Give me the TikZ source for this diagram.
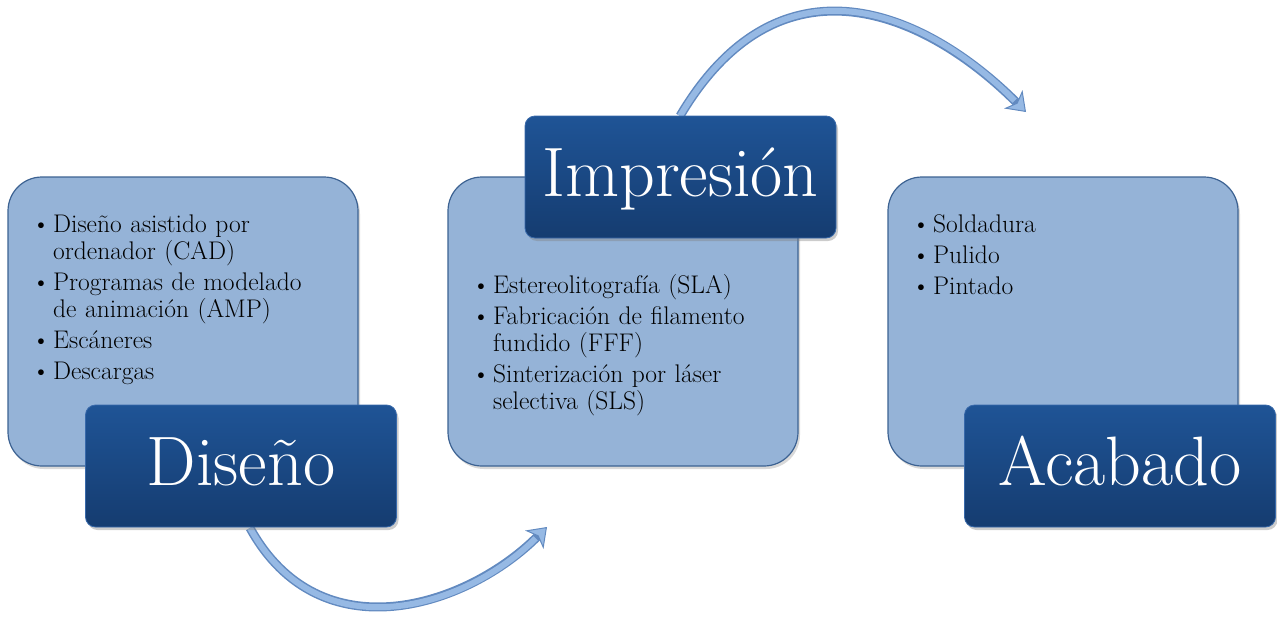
\documentclass[tikz,border=0pt]{standalone}
\usetikzlibrary{shadows,arrows.meta}

\definecolor{boxfill}{RGB}{149,179,215}
\definecolor{boxline}{RGB}{60,98,146}
\definecolor{titletop}{RGB}{31,84,150}
\definecolor{titlebot}{RGB}{21,60,112}
\definecolor{titleline}{RGB}{56,105,170}
\definecolor{arrowfill}{RGB}{150,185,228}
\definecolor{arrowline}{RGB}{98,138,192}
\newcommand{\blt}{\leavevmode\llap{\textbullet\hspace{3pt}}}

\begin{document}
\begin{tikzpicture}[x=1pt,y=-1pt,
    lightbox/.style={draw=boxline,line width=1.2pt,fill=boxfill,
        rounded corners=34pt,minimum width=350pt,minimum height=289pt,inner sep=0pt,
        drop shadow={opacity=0.3,shadow xshift=2pt,shadow yshift=-3pt}},
    titlebox/.style={draw=titleline,line width=0.8pt,top color=titletop,bottom color=titlebot,
        rounded corners=10pt,minimum width=311pt,minimum height=122pt,inner sep=0pt,
        text=white,font=\fontsize{70}{76}\selectfont,text height=38pt,text depth=0pt,
        drop shadow={opacity=0.4,shadow xshift=2pt,shadow yshift=-3pt}},
    itemlist/.style={anchor=north west,inner sep=0pt,text width=310pt,align=left,
        font=\fontsize{25.5}{27}\selectfont},
    curvedarrow/.style={line width=9pt,draw=arrowline,
        -{Stealth[length=18pt,width=26pt,inset=5pt,line width=1pt,fill=arrowfill]}},
    curvedcore/.style={line width=6pt,draw=arrowfill,shorten >=16pt}]

\useasboundingbox (0,0) rectangle (1277,621);

\coordinate (d1) at (250,528);
\coordinate (d2) at (547,527);
\coordinate (i1) at (680,116);
\coordinate (i2) at (1026,112);

\draw[curvedarrow] (d1) .. controls (320,655) and (467,607) .. (d2);
\draw[curvedcore] (d1) .. controls (320,655) and (467,607) .. (d2);
\draw[curvedarrow] (i1) .. controls (780,-53) and (926,12) .. (i2);
\draw[curvedcore] (i1) .. controls (780,-53) and (926,12) .. (i2);

\foreach \x/\n in {183/box1,623/box2,1063/box3}{
\node[lightbox] (\n) at (\x,321.5) {};
}

\node[itemlist] (list1) at (53,214.5) {\blt Diseño asistido por\\ordenador (CAD)\\[4pt]
    \blt Programas de modelado\\de animación (AMP)\\[4pt]
    \blt Escáneres\\[4pt]
    \blt Descargas};
\node[itemlist] (list2) at (493,274) {\blt Estereolitografía (SLA)\\[4pt]
    \blt Fabricación de filamento\\fundido (FFF)\\[4pt]
    \blt Sinterización por láser\\selectiva (SLS)};
\node[itemlist] (list3) at (933,214.5) {\blt Soldadura\\[4pt]
    \blt Pulido\\[4pt]
    \blt Pintado};

\node[titlebox] (diseno) at (241,466) {Diseño};
\node[titlebox] (impresion) at (680.5,177) {Impresión};
\node[titlebox] (acabado) at (1120,466) {Acabado};

\end{tikzpicture}
\end{document}
